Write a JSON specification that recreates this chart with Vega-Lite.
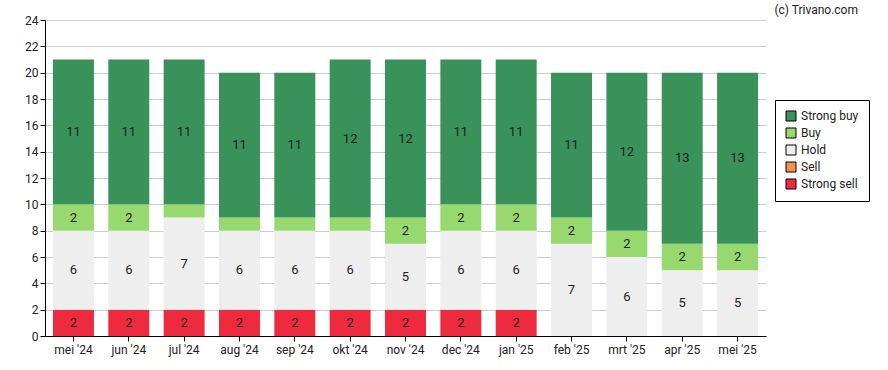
{
  "$schema": "https://vega.github.io/schema/vega-lite/v6.json",
  "width": 721,
  "height": 316,
  "autosize": {"type": "none"},
  "padding": {"left": 45, "top": 20, "right": 122, "bottom": 34},
  "title": {"text": "(c) Trivano.com", "anchor": "end", "frame": "group", "dx": 92, "dy": 9, "offset": 6, "fontSize": 12, "fontWeight": "normal", "font": "Roboto", "color": "#222222"},
  "config": {
    "font": "Roboto",
    "view": {"stroke": null},
    "axis": {"labelFont": "Roboto", "labelFontSize": 12, "labelColor": "#222222", "domainColor": "#000000", "tickColor": "#000000", "tickSize": 5, "title": null, "labelOverlap": false},
    "axisY": {"values": [0, 2, 4, 6, 8, 10, 12, 14, 16, 18, 20, 22, 24], "grid": true, "gridColor": "#cccccc", "labelPadding": 2}
  },
  "datasets": {
    "ratings": [
      {"month": "mei '24", "cat": "Strong sell", "order": 1, "value": 2},
      {"month": "mei '24", "cat": "Sell", "order": 2, "value": 0},
      {"month": "mei '24", "cat": "Hold", "order": 3, "value": 6},
      {"month": "mei '24", "cat": "Buy", "order": 4, "value": 2},
      {"month": "mei '24", "cat": "Strong buy", "order": 5, "value": 11},
      {"month": "jun '24", "cat": "Strong sell", "order": 1, "value": 2},
      {"month": "jun '24", "cat": "Sell", "order": 2, "value": 0},
      {"month": "jun '24", "cat": "Hold", "order": 3, "value": 6},
      {"month": "jun '24", "cat": "Buy", "order": 4, "value": 2},
      {"month": "jun '24", "cat": "Strong buy", "order": 5, "value": 11},
      {"month": "jul '24", "cat": "Strong sell", "order": 1, "value": 2},
      {"month": "jul '24", "cat": "Sell", "order": 2, "value": 0},
      {"month": "jul '24", "cat": "Hold", "order": 3, "value": 7},
      {"month": "jul '24", "cat": "Buy", "order": 4, "value": 1},
      {"month": "jul '24", "cat": "Strong buy", "order": 5, "value": 11},
      {"month": "aug '24", "cat": "Strong sell", "order": 1, "value": 2},
      {"month": "aug '24", "cat": "Sell", "order": 2, "value": 0},
      {"month": "aug '24", "cat": "Hold", "order": 3, "value": 6},
      {"month": "aug '24", "cat": "Buy", "order": 4, "value": 1},
      {"month": "aug '24", "cat": "Strong buy", "order": 5, "value": 11},
      {"month": "sep '24", "cat": "Strong sell", "order": 1, "value": 2},
      {"month": "sep '24", "cat": "Sell", "order": 2, "value": 0},
      {"month": "sep '24", "cat": "Hold", "order": 3, "value": 6},
      {"month": "sep '24", "cat": "Buy", "order": 4, "value": 1},
      {"month": "sep '24", "cat": "Strong buy", "order": 5, "value": 11},
      {"month": "okt '24", "cat": "Strong sell", "order": 1, "value": 2},
      {"month": "okt '24", "cat": "Sell", "order": 2, "value": 0},
      {"month": "okt '24", "cat": "Hold", "order": 3, "value": 6},
      {"month": "okt '24", "cat": "Buy", "order": 4, "value": 1},
      {"month": "okt '24", "cat": "Strong buy", "order": 5, "value": 12},
      {"month": "nov '24", "cat": "Strong sell", "order": 1, "value": 2},
      {"month": "nov '24", "cat": "Sell", "order": 2, "value": 0},
      {"month": "nov '24", "cat": "Hold", "order": 3, "value": 5},
      {"month": "nov '24", "cat": "Buy", "order": 4, "value": 2},
      {"month": "nov '24", "cat": "Strong buy", "order": 5, "value": 12},
      {"month": "dec '24", "cat": "Strong sell", "order": 1, "value": 2},
      {"month": "dec '24", "cat": "Sell", "order": 2, "value": 0},
      {"month": "dec '24", "cat": "Hold", "order": 3, "value": 6},
      {"month": "dec '24", "cat": "Buy", "order": 4, "value": 2},
      {"month": "dec '24", "cat": "Strong buy", "order": 5, "value": 11},
      {"month": "jan '25", "cat": "Strong sell", "order": 1, "value": 2},
      {"month": "jan '25", "cat": "Sell", "order": 2, "value": 0},
      {"month": "jan '25", "cat": "Hold", "order": 3, "value": 6},
      {"month": "jan '25", "cat": "Buy", "order": 4, "value": 2},
      {"month": "jan '25", "cat": "Strong buy", "order": 5, "value": 11},
      {"month": "feb '25", "cat": "Strong sell", "order": 1, "value": 0},
      {"month": "feb '25", "cat": "Sell", "order": 2, "value": 0},
      {"month": "feb '25", "cat": "Hold", "order": 3, "value": 7},
      {"month": "feb '25", "cat": "Buy", "order": 4, "value": 2},
      {"month": "feb '25", "cat": "Strong buy", "order": 5, "value": 11},
      {"month": "mrt '25", "cat": "Strong sell", "order": 1, "value": 0},
      {"month": "mrt '25", "cat": "Sell", "order": 2, "value": 0},
      {"month": "mrt '25", "cat": "Hold", "order": 3, "value": 6},
      {"month": "mrt '25", "cat": "Buy", "order": 4, "value": 2},
      {"month": "mrt '25", "cat": "Strong buy", "order": 5, "value": 12},
      {"month": "apr '25", "cat": "Strong sell", "order": 1, "value": 0},
      {"month": "apr '25", "cat": "Sell", "order": 2, "value": 0},
      {"month": "apr '25", "cat": "Hold", "order": 3, "value": 5},
      {"month": "apr '25", "cat": "Buy", "order": 4, "value": 2},
      {"month": "apr '25", "cat": "Strong buy", "order": 5, "value": 13},
      {"month": "mei '25", "cat": "Strong sell", "order": 1, "value": 0},
      {"month": "mei '25", "cat": "Sell", "order": 2, "value": 0},
      {"month": "mei '25", "cat": "Hold", "order": 3, "value": 5},
      {"month": "mei '25", "cat": "Buy", "order": 4, "value": 2},
      {"month": "mei '25", "cat": "Strong buy", "order": 5, "value": 13}
    ]
  },
  "data": {"name": "ratings"},
  "transform": [
    {"stack": "value", "groupby": ["month"], "sort": [{"field": "order", "order": "ascending"}], "as": ["y0", "y1"]},
    {"calculate": "(datum.y0 + datum.y1) / 2", "as": "mid"}
  ],
  "encoding": {
    "x": {
      "field": "month", "type": "nominal", "sort": null,
      "scale": {"paddingInner": 0.26, "paddingOuter": 0.144},
      "axis": {"labelAngle": 0, "grid": false, "labelPadding": 3}
    }
  },
  "layer": [
    {
      "mark": {"type": "bar"},
      "encoding": {
        "y": {"field": "y0", "type": "quantitative", "scale": {"domain": [0, 24], "nice": false}},
        "y2": {"field": "y1"},
        "color": {
          "field": "cat", "type": "nominal",
          "scale": {"domain": ["Strong buy", "Buy", "Hold", "Sell", "Strong sell"], "range": ["#38925a", "#97d86f", "#eeeeee", "#f79352", "#ee2b3e"]},
          "legend": {
            "title": null, "orient": "none", "legendX": 730, "legendY": 80,
            "symbolType": "square", "symbolSize": 100, "symbolStrokeColor": "#000000", "symbolStrokeWidth": 1,
            "labelFontSize": 12, "labelFont": "Roboto", "labelColor": "#222222", "labelOffset": 4,
            "padding": 10, "rowPadding": 3, "strokeColor": "#000000", "fillColor": "#ffffff"
          }
        }
      }
    },
    {
      "transform": [{"filter": "datum.value >= 2"}],
      "mark": {"type": "text", "fontSize": 13, "color": "#222222", "font": "Roboto"},
      "encoding": {
        "y": {"field": "mid", "type": "quantitative"},
        "text": {"field": "value", "type": "quantitative"}
      }
    }
  ]
}
